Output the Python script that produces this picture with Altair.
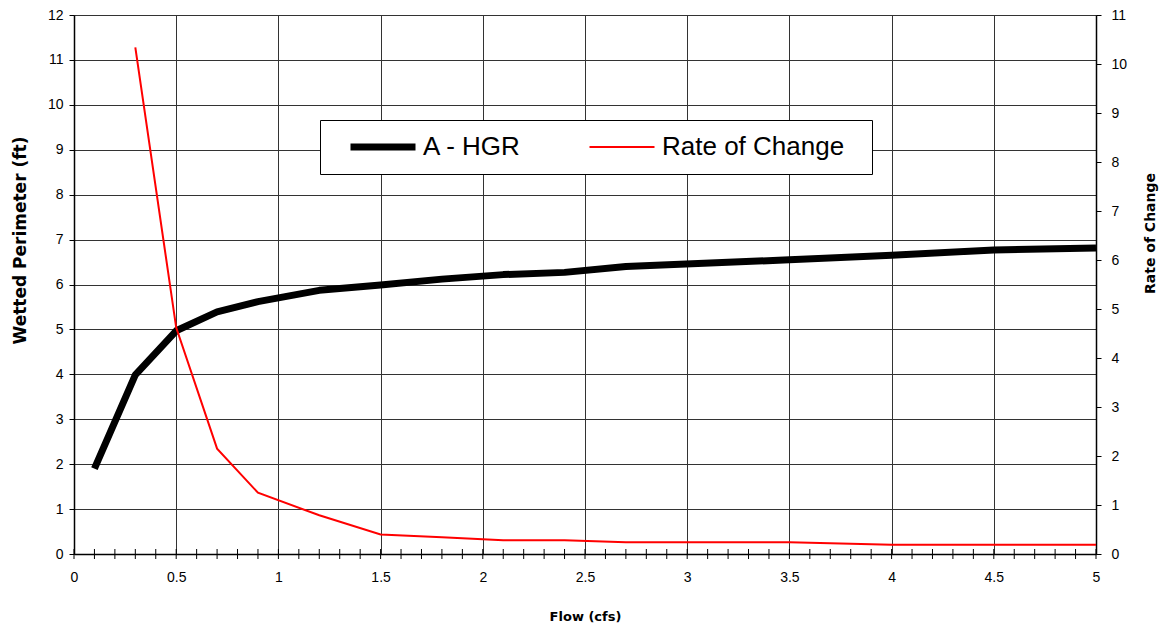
import altair as alt
import pandas as pd

# Data
flow_hgr = [0.1, 0.3, 0.5, 0.7, 0.9, 1.2, 1.5, 1.8, 2.1, 2.4, 2.7, 3.5, 4.0, 4.5, 5.0]
wetted_perimeter = [1.90, 3.99, 4.97, 5.39, 5.62, 5.87, 5.99, 6.12, 6.22, 6.27, 6.40, 6.55, 6.65, 6.77, 6.81]

flow_rate = [0.3, 0.5, 0.7, 0.9, 1.2, 1.5, 1.8, 2.1, 2.4, 2.7, 3.5, 4.0, 4.5, 5.0]
rate_of_change = [10.34, 4.62, 2.15, 1.25, 0.79, 0.40, 0.34, 0.28, 0.28, 0.24, 0.24, 0.19, 0.19, 0.19]

series_names = ["A - HGR", "Rate of Change"]
series_colors = ["#000000", "#FF0000"]
series_widths = [7, 2]

x_minor_ticks = [round(i * 0.1, 1) for i in range(0, 51)]
x_major_ticks = [round(i * 0.5, 1) for i in range(0, 11)]
left_ticks = list(range(0, 13))
right_ticks = list(range(0, 12))

df_hgr = pd.DataFrame({"flow": flow_hgr, "value": wetted_perimeter, "series": series_names[0]})
df_rate = pd.DataFrame({"flow": flow_rate, "value": rate_of_change, "series": series_names[1]})
df_minor = pd.DataFrame({"flow": x_minor_ticks})

FONT = "Liberation Sans"
TITLE_FONT = "DejaVu Sans"

x_scale = alt.Scale(domain=[0, 5], nice=False, zero=False)
color_scale = alt.Scale(domain=series_names, range=series_colors)
width_scale = alt.Scale(domain=series_names, range=series_widths)

x_axis = alt.Axis(
    values=x_major_ticks,
    format="~g",
    title="Flow (cfs)",
    titleFont=TITLE_FONT,
    titleFontSize=13,
    titleFontWeight="bold",
    titleColor="#000",
    titlePadding=26,
    labelFont=FONT,
    labelFontSize=14,
    labelColor="#000",
    labelPadding=16,
    labelFlush=False,
    tickSize=0,
    domainColor="#000",
    domainWidth=1.5,
    grid=True,
    gridColor="#333",
    gridWidth=1,
)

legend = alt.Legend(
    orient="none",
    legendX=246,
    legendY=105,
    direction="horizontal",
    columns=2,
    title=" ",
    titleOrient="right",
    titlePadding=14,
    titleFontSize=10,
    symbolType="stroke",
    symbolSize=4225,
    clipHeight=26,
    labelFont=FONT,
    labelFontSize=26,
    labelColor="#000",
    labelOffset=4,
    labelLimit=400,
    columnPadding=51,
    padding=14,
    symbolOffset=13,
    strokeColor="#000",
    fillColor="#fff",
)

black_line = alt.Chart(df_hgr).mark_line(strokeJoin="round", strokeCap="butt").encode(
    x=alt.X("flow:Q", scale=x_scale, axis=x_axis),
    y=alt.Y(
        "value:Q",
        scale=alt.Scale(domain=[0, 12], nice=False),
        axis=alt.Axis(
            values=left_ticks,
            title="Wetted Perimeter (ft)",
            titleFont=TITLE_FONT,
            titleFontSize=17,
            titleFontWeight=900,
            titleColor="#000",
            titleBaseline="middle",
            titleX=-54,
            titleY=225,
            labelFont=FONT,
            labelFontSize=14,
            labelColor="#000",
            labelPadding=6,
            tickSize=5,
            tickColor="#000",
            domainColor="#000",
            domainWidth=1.5,
            grid=True,
            gridColor="#333",
            gridWidth=1,
        ),
    ),
    color=alt.Color("series:N", scale=color_scale, legend=legend),
    strokeWidth=alt.StrokeWidth("series:N", scale=width_scale, legend=legend),
)

# Minor x ticks that cross the bottom axis
minor_ticks = alt.Chart(df_minor).mark_rule(color="#000", strokeWidth=1).encode(
    x=alt.X("flow:Q", scale=x_scale),
    y=alt.value(534),
    y2=alt.value(544),
)

left_part = alt.layer(black_line, minor_ticks)

red_line = alt.Chart(df_rate).mark_line(strokeJoin="miter").encode(
    x=alt.X("flow:Q", scale=x_scale),
    y=alt.Y(
        "value:Q",
        scale=alt.Scale(domain=[0, 11], nice=False),
        axis=alt.Axis(
            orient="right",
            values=right_ticks,
            title="Rate of Change",
            titleFont=TITLE_FONT,
            titleFontSize=14,
            titleFontWeight=900,
            titleColor="#000",
            titleAngle=270,
            titleBaseline="middle",
            titleX=54,
            titleY=218,
            labelFont=FONT,
            labelFontSize=14,
            labelColor="#000",
            labelPadding=10,
            tickSize=5,
            tickColor="#000",
            domainColor="#000",
            domainWidth=1.5,
            grid=False,
        ),
    ),
    color=alt.Color("series:N", scale=color_scale, legend=legend),
    strokeWidth=alt.StrokeWidth("series:N", scale=width_scale, legend=legend),
)

chart = (
    alt.layer(left_part, red_line)
    .resolve_scale(y="independent")
    .properties(
        width=1022,
        height=539,
        autosize=alt.AutoSizeParams(type="none"),
        padding={"left": 66, "top": 7, "right": 66, "bottom": 70},
    )
    .configure_view(stroke="#999", strokeWidth=2.5)
    .configure(background="white")
)

chart.save("out.html", embed_options={"renderer": "svg", "actions": False})
